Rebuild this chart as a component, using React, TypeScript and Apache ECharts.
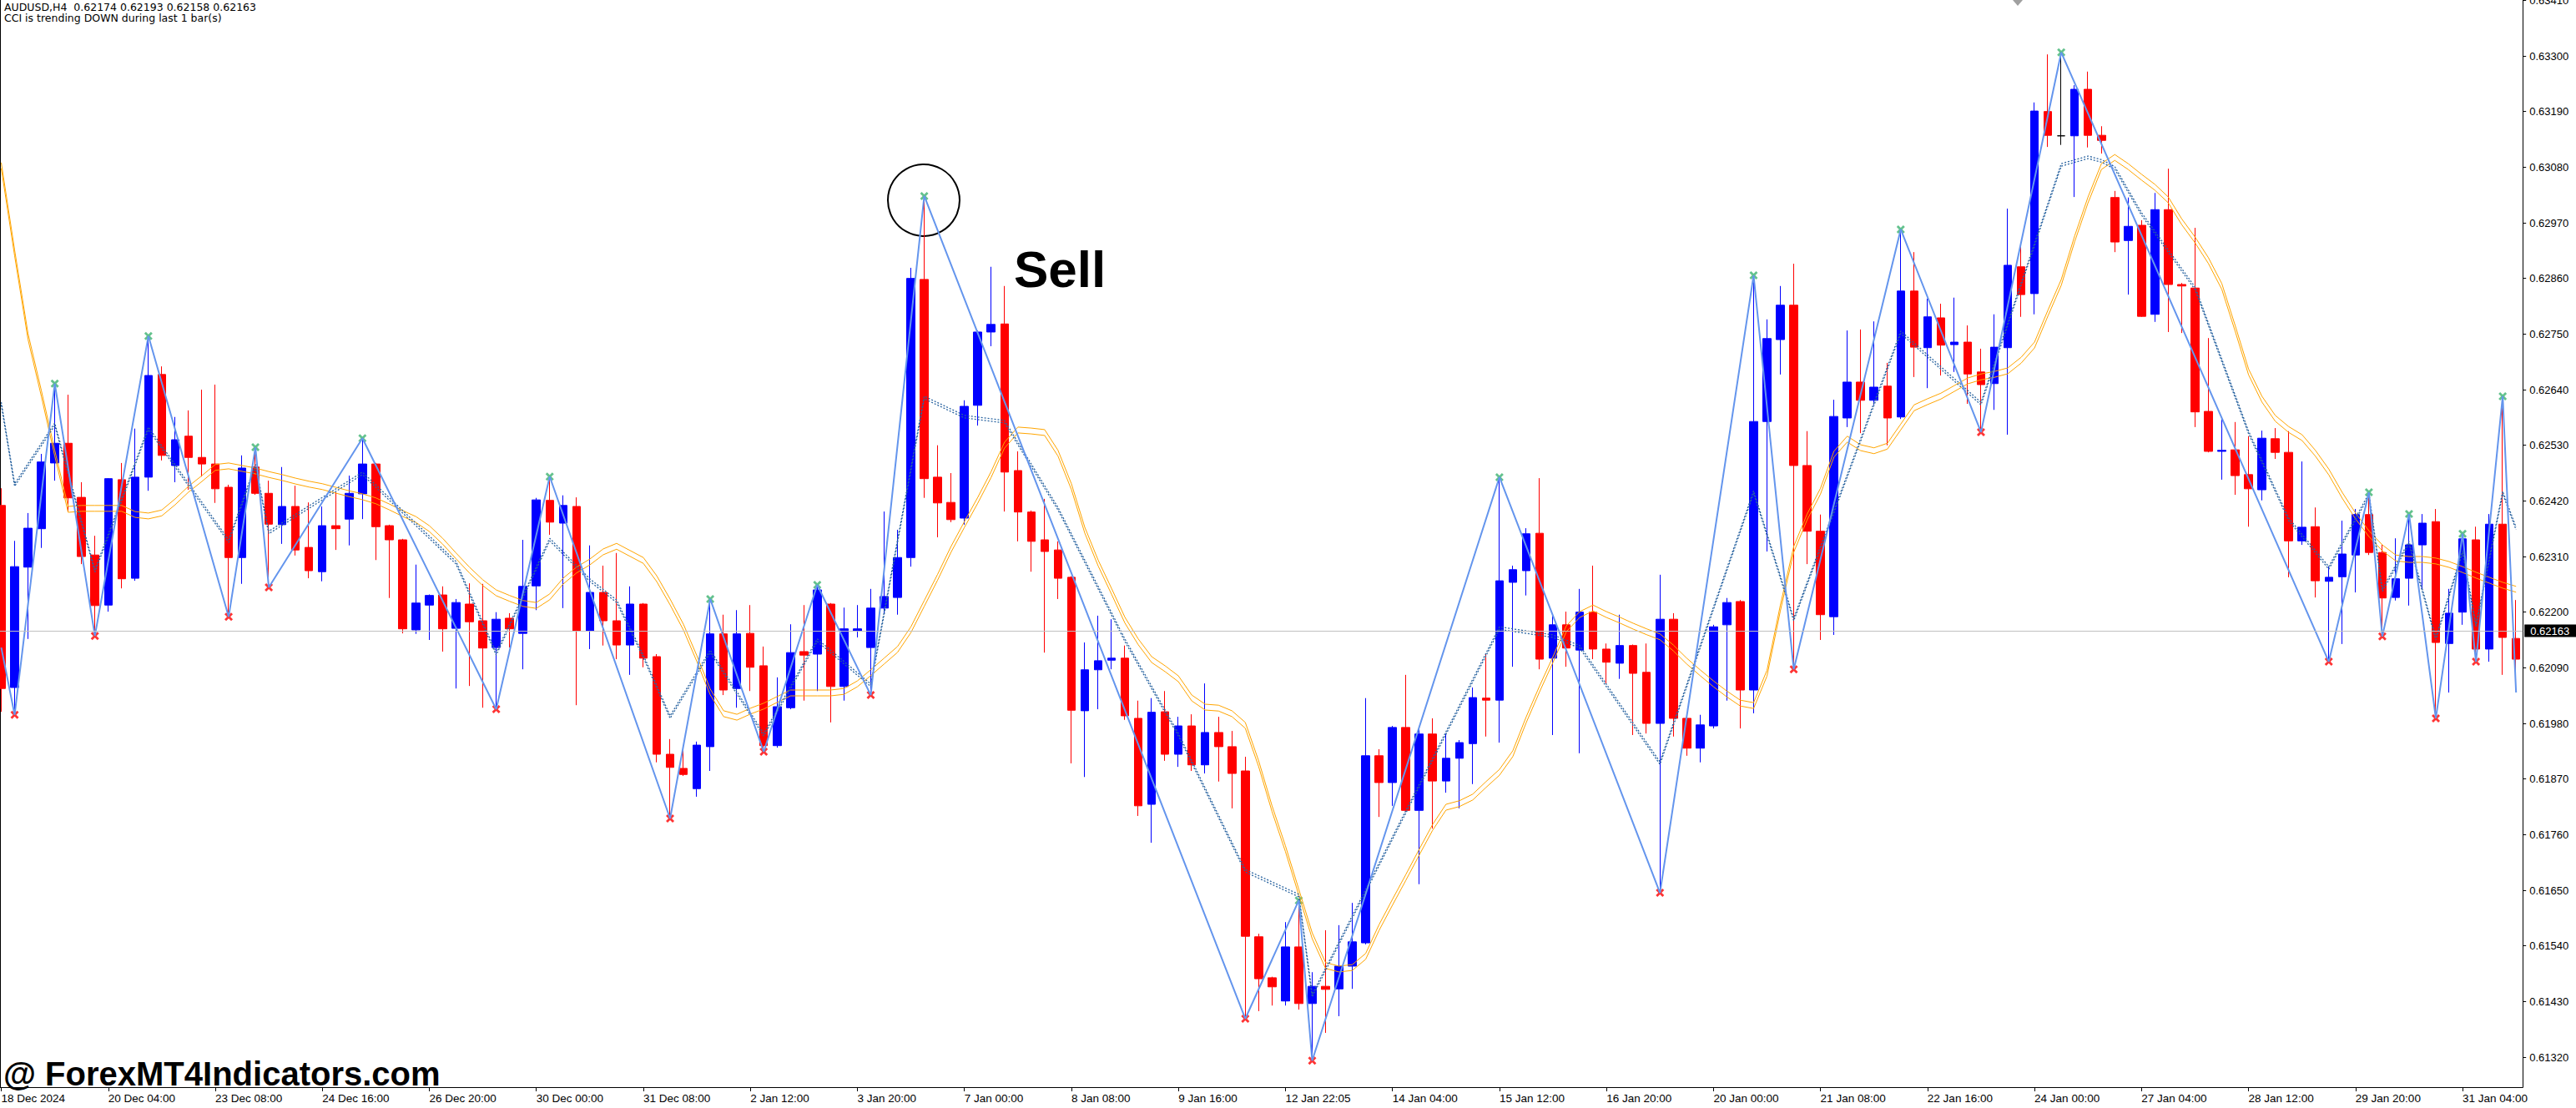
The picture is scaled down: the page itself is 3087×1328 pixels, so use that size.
import React, { useEffect, useRef } from "react";
import * as echarts from "echarts";

const FONT = "Liberation Sans";
const HEAD_FONT = "DejaVu Sans";

const dateLabels = [
  "18 Dec 2024", "20 Dec 04:00", "23 Dec 08:00", "24 Dec 16:00", "26 Dec 20:00", "30 Dec 00:00",
  "31 Dec 08:00", "2 Jan 12:00", "3 Jan 20:00", "7 Jan 00:00", "8 Jan 08:00", "9 Jan 16:00",
  "12 Jan 22:05", "14 Jan 04:00", "15 Jan 12:00", "16 Jan 20:00", "20 Jan 00:00", "21 Jan 08:00",
  "22 Jan 16:00", "24 Jan 00:00", "27 Jan 04:00", "28 Jan 12:00", "29 Jan 20:00", "31 Jan 04:00",
];

const priceTicks = [
  0.6132, 0.6143, 0.6154, 0.6165, 0.6176, 0.6187, 0.6198, 0.6209, 0.622, 0.6231,
  0.6242, 0.6253, 0.6264, 0.6275, 0.6286, 0.6297, 0.6308, 0.6319, 0.633, 0.6341,
];

const priceMin = 0.6126065;
const priceMax = 0.634106;
const lastPrice = 0.62163;

// [open, close, low, high]
const ohlc = [
  [0.62411,0.62049,0.62003,0.62445],[0.62051,0.62290,0.61997,0.62341],[0.62289,0.62366,0.62147,0.62396],
  [0.62365,0.62497,0.62327,0.62513],[0.62495,0.62534,0.62460,0.62652],[0.62534,0.62426,0.62399,0.62630],
  [0.62427,0.62310,0.62295,0.62457],[0.62313,0.62213,0.62153,0.62351],[0.62214,0.62464,0.62201,0.62465],
  [0.62462,0.62266,0.62247,0.62495],[0.62267,0.62467,0.62262,0.62563],[0.62467,0.62668,0.62440,0.62746],
  [0.62670,0.62510,0.62500,0.62686],[0.62490,0.62541,0.62457,0.62586],[0.62548,0.62506,0.62442,0.62599],
  [0.62506,0.62493,0.62468,0.62640],[0.62493,0.62444,0.62416,0.62650],[0.62447,0.62308,0.62191,0.62452],
  [0.62308,0.62485,0.62256,0.62510],[0.62487,0.62435,0.62432,0.62526],[0.62435,0.62374,0.62249,0.62460],
  [0.62373,0.62409,0.62335,0.62487],[0.62409,0.62323,0.62312,0.62450],[0.62328,0.62282,0.62267,0.62417],
  [0.62280,0.62371,0.62261,0.62409],[0.62371,0.62365,0.62323,0.62437],[0.62384,0.62435,0.62332,0.62470],
  [0.62434,0.62493,0.62384,0.62544],[0.62493,0.62369,0.62303,0.62495],[0.62371,0.62343,0.62228,0.62373],
  [0.62343,0.62167,0.62158,0.62345],[0.62165,0.62218,0.62157,0.62294],[0.62214,0.62233,0.62145,0.62235],
  [0.62234,0.62167,0.62122,0.62251],[0.62168,0.62219,0.62049,0.62226],[0.62216,0.62181,0.62054,0.62257],
  [0.62183,0.62129,0.62011,0.62256],[0.62130,0.62186,0.62008,0.62200],[0.62188,0.62167,0.62130,0.62198],
  [0.62158,0.62251,0.62087,0.62343],[0.62252,0.62422,0.62204,0.62426],[0.62421,0.62378,0.62353,0.62468],
  [0.62376,0.62411,0.62208,0.62431],[0.62409,0.62163,0.62016,0.62427],[0.62163,0.62239,0.62127,0.62332],
  [0.62239,0.62183,0.62134,0.62292],[0.62183,0.62135,0.62107,0.62317],[0.62135,0.62216,0.62076,0.62251],
  [0.62216,0.62109,0.62091,0.62218],[0.62112,0.61919,0.61903,0.62117],[0.61919,0.61893,0.61792,0.61949],
  [0.61891,0.61879,0.61876,0.61927],[0.61851,0.61937,0.61835,0.61944],[0.61934,0.62157,0.61886,0.62226],
  [0.62157,0.62046,0.62036,0.62195],[0.62049,0.62157,0.62011,0.62204],[0.62158,0.62091,0.62044,0.62214],
  [0.62094,0.61936,0.61924,0.62132],[0.61936,0.62013,0.61932,0.62071],[0.62011,0.62120,0.62008,0.62176],
  [0.62122,0.62115,0.62025,0.62214],[0.62117,0.62244,0.62044,0.62254],[0.62216,0.62053,0.61982,0.62218],
  [0.62053,0.62167,0.62025,0.62209],[0.62163,0.62167,0.62150,0.62214],[0.62130,0.62208,0.62036,0.62246],
  [0.62208,0.62231,0.62196,0.62399],[0.62229,0.62308,0.62195,0.62363],[0.62308,0.62860,0.62290,0.62881],
  [0.62858,0.62464,0.62426,0.63023],[0.62467,0.62416,0.62348,0.62530],[0.62417,0.62383,0.62378,0.62475],
  [0.62386,0.62607,0.62373,0.62619],[0.62609,0.62754,0.62569,0.62757],[0.62754,0.62769,0.62726,0.62883],
  [0.62770,0.62477,0.62399,0.62845],[0.62480,0.62398,0.62340,0.62518],[0.62398,0.62340,0.62280,0.62401],
  [0.62343,0.62320,0.62120,0.62424],[0.62323,0.62267,0.62226,0.62340],[0.62269,0.62006,0.61901,0.62271],
  [0.62005,0.62086,0.61874,0.62140],[0.62086,0.62104,0.62008,0.62193],[0.62105,0.62109,0.62087,0.62186],
  [0.62109,0.61995,0.61987,0.62134],[0.61990,0.61817,0.61797,0.62025],[0.61820,0.62002,0.61744,0.62030],
  [0.62003,0.61919,0.61906,0.62044],[0.61919,0.61975,0.61894,0.61993],[0.61975,0.61898,0.61886,0.61998],
  [0.61898,0.61962,0.61881,0.62059],[0.61962,0.61934,0.61865,0.61993],[0.61934,0.61881,0.61812,0.61965],
  [0.61886,0.61559,0.61396,0.61914],[0.61558,0.61475,0.61411,0.61564],[0.61477,0.61459,0.61422,0.61479],
  [0.61431,0.61538,0.61422,0.61587],[0.61538,0.61426,0.61414,0.61630],[0.61426,0.61460,0.61313,0.61488],
  [0.61460,0.61454,0.61368,0.61571],[0.61455,0.61500,0.61401,0.61581],[0.61500,0.61548,0.61455,0.61625],
  [0.61546,0.61916,0.61543,0.62030],[0.61916,0.61863,0.61795,0.61929],[0.61863,0.61972,0.61817,0.61975],
  [0.61972,0.61808,0.61805,0.62076],[0.61808,0.61959,0.61662,0.61970],[0.61959,0.61866,0.61772,0.61990],
  [0.61866,0.61911,0.61843,0.61960],[0.61911,0.61942,0.61812,0.61947],[0.61940,0.62031,0.61860,0.62051],
  [0.62030,0.62026,0.61954,0.62117],[0.62026,0.62262,0.61942,0.62467],[0.62259,0.62284,0.62092,0.62292],
  [0.62282,0.62355,0.62233,0.62366],[0.62356,0.62107,0.62087,0.62465],[0.62109,0.62175,0.61957,0.62195],
  [0.62175,0.62129,0.62092,0.62201],[0.62125,0.62200,0.61921,0.62246],[0.62200,0.62127,0.62107,0.62292],
  [0.62127,0.62101,0.62058,0.62138],[0.62099,0.62134,0.62068,0.62195],[0.62134,0.62079,0.61957,0.62136],
  [0.62081,0.61980,0.61960,0.62138],[0.61980,0.62186,0.61645,0.62274],[0.62186,0.61990,0.61954,0.62198],
  [0.61990,0.61931,0.61916,0.61992],[0.61931,0.61977,0.61903,0.61997],[0.61975,0.62171,0.61970,0.62175],
  [0.62175,0.62219,0.62025,0.62228],[0.62221,0.62046,0.61970,0.62224],[0.62046,0.62577,0.62000,0.62866],
  [0.62577,0.62741,0.62320,0.62779],[0.62739,0.62807,0.62670,0.62845],[0.62807,0.62490,0.62087,0.62889],
  [0.62490,0.62360,0.62295,0.62558],[0.62360,0.62195,0.62145,0.62393],[0.62191,0.62587,0.62155,0.62620],
  [0.62584,0.62655,0.62566,0.62757],[0.62655,0.62619,0.62554,0.62759],[0.62619,0.62645,0.62610,0.62775],
  [0.62647,0.62584,0.62530,0.62693],[0.62586,0.62835,0.62582,0.62957],[0.62835,0.62724,0.62665,0.62912],
  [0.62723,0.62784,0.62643,0.62820],[0.62782,0.62728,0.62668,0.62810],[0.62729,0.62734,0.62675,0.62822],
  [0.62734,0.62671,0.62612,0.62767],[0.62675,0.62650,0.62556,0.62721],[0.62652,0.62724,0.62600,0.62789],
  [0.62723,0.62886,0.62551,0.62998],[0.62883,0.62828,0.62784,0.62922],[0.62830,0.63191,0.62789,0.63208],
  [0.63190,0.63143,0.63120,0.63303],[0.63142,0.63142,0.63124,0.63307],[0.63142,0.63234,0.63021,0.63242],
  [0.63234,0.63143,0.63119,0.63269],[0.63143,0.63133,0.63107,0.63161],[0.63020,0.62932,0.62912,0.63033],
  [0.62935,0.62963,0.62828,0.63020],[0.62965,0.62785,0.62784,0.62975],[0.62789,0.62996,0.62774,0.63029],
  [0.62996,0.62848,0.62754,0.63077],[0.62848,0.62845,0.62752,0.62851],[0.62841,0.62596,0.62566,0.62960],
  [0.62597,0.62518,0.62516,0.62742],[0.62518,0.62520,0.62462,0.62582],[0.62521,0.62470,0.62432,0.62576],
  [0.62472,0.62444,0.62369,0.62548],[0.62442,0.62544,0.62421,0.62559],[0.62543,0.62516,0.62503,0.62564],
  [0.62516,0.62341,0.62269,0.62558],[0.62341,0.62368,0.62333,0.62498],[0.62369,0.62262,0.62229,0.62407],
  [0.62261,0.62269,0.62102,0.62290],[0.62270,0.62315,0.62137,0.62381],[0.62313,0.62393,0.62239,0.62404],
  [0.62393,0.62318,0.62313,0.62437],[0.62318,0.62228,0.62152,0.62333],[0.62229,0.62266,0.62223,0.62346],
  [0.62267,0.62333,0.62213,0.62394],[0.62333,0.62376,0.62246,0.62394],[0.62379,0.62140,0.61990,0.62404],
  [0.62138,0.62198,0.62041,0.62246],[0.62200,0.62345,0.62175,0.62355],[0.62343,0.62127,0.62102,0.62369],
  [0.62127,0.62374,0.62102,0.62394],[0.62374,0.62150,0.62076,0.62627],[0.62148,0.62107,0.62066,0.62224],
];

const dojiBars = [154];

const orangeBand = [
  0.63089,0.62916,0.62751,0.62638,0.62520,0.62409,0.62411,0.62411,0.62411,0.62411,
  0.62399,0.62396,0.62402,0.62424,0.62449,0.62470,0.62492,0.62495,0.62490,0.62485,
  0.62478,0.62472,0.62465,0.62459,0.62454,0.62447,0.62440,0.62434,0.62426,0.62414,
  0.62401,0.62389,0.62371,0.62346,0.62317,0.62289,0.62264,0.62244,0.62233,0.62223,
  0.62219,0.62236,0.62267,0.62289,0.62305,0.62325,0.62336,0.62322,0.62308,0.62272,
  0.62226,0.62176,0.62114,0.62048,0.62005,0.61998,0.62010,0.62020,0.62033,0.62046,
  0.62046,0.62046,0.62046,0.62049,0.62064,0.62086,0.62109,0.62132,0.62171,0.62223,
  0.62275,0.62330,0.62379,0.62427,0.62478,0.62536,0.62566,0.62564,0.62561,0.62520,
  0.62454,0.62368,0.62303,0.62247,0.62190,0.62147,0.62112,0.62094,0.62074,0.62036,
  0.62018,0.62016,0.62005,0.61982,0.61906,0.61817,0.61738,0.61652,0.61566,0.61507,
  0.61500,0.61503,0.61525,0.61582,0.61632,0.61681,0.61731,0.61780,0.61820,0.61827,
  0.61840,0.61865,0.61889,0.61926,0.61993,0.62054,0.62112,0.62173,0.62201,0.62214,
  0.62201,0.62190,0.62178,0.62167,0.62157,0.62135,0.62109,0.62086,0.62064,0.62044,
  0.62026,0.62021,0.62085,0.62214,0.62330,0.62394,0.62445,0.62518,0.62548,0.62531,
  0.62525,0.62534,0.62572,0.62610,0.62622,0.62633,0.62648,0.62663,0.62671,0.62676,
  0.62683,0.62704,0.62734,0.62797,0.62858,0.62944,0.63021,0.63087,0.63105,0.63087,
  0.63066,0.63046,0.63021,0.62978,0.62942,0.62901,0.62850,0.62767,0.62681,0.62627,
  0.62589,0.62567,0.62551,0.62520,0.62483,0.62437,0.62396,0.62361,0.62333,0.62313,
  0.62310,0.62310,0.62307,0.62300,0.62290,0.62279,0.62269,0.62259,0.62251,
];

// [bar, price, kind] kind: H = swing high, L = swing low
const zigzag = [
  [0,0.62130,""],[1,0.61997,"L"],[4,0.62652,"H"],[7,0.62153,"L"],[11,0.62746,"H"],
  [17,0.62191,"L"],[19,0.62526,"H"],[20,0.62249,"L"],[27,0.62544,"H"],[37,0.62008,"L"],
  [41,0.62468,"H"],[50,0.61792,"L"],[53,0.62226,"H"],[57,0.61924,"L"],[61,0.62254,"H"],
  [65,0.62036,"L"],[69,0.63023,"H"],[93,0.61396,"L"],[97,0.61630,"H"],[98,0.61313,"L"],
  [112,0.62467,"H"],[124,0.61645,"L"],[131,0.62866,"H"],[134,0.62087,"L"],[142,0.62957,"H"],
  [148,0.62556,"L"],[154,0.63307,"H"],[174,0.62102,"L"],[177,0.62437,"H"],[178,0.62152,"L"],
  [180,0.62394,"H"],[182,0.61990,"L"],[184,0.62355,"H"],[185,0.62102,"L"],[187,0.62627,"H"],
  [188,0.62041,""],
];

const dottedTrend = [
  [0,0.62615],[1,0.62454],[4,0.62574],[7,0.62284],[11,0.62566],[17,0.62343],[19,0.62492],
  [20,0.62360],[27,0.62477],[34,0.62300],[37,0.62120],[41,0.62346],[44,0.62266],[46,0.62224],
  [48,0.62115],[50,0.61995],[53,0.62125],[57,0.61960],[61,0.62147],[65,0.62058],[69,0.62627],
  [72,0.62589],[75,0.62579],[79,0.62407],[84,0.62147],[88,0.61960],[93,0.61691],[97,0.61642],
  [98,0.61444],[112,0.62171],[116,0.62155],[118,0.62134],[124,0.61904],[131,0.62440],
  [134,0.62188],[142,0.62756],[148,0.62615],[154,0.63087],[156,0.63102],[157,0.63095],
  [158,0.63081],[160,0.62990],[164,0.62843],[168,0.62558],[171,0.62386],[174,0.62290],
  [177,0.62435],[178,0.62246],[180,0.62340],[182,0.62150],[184,0.62322],[185,0.62176],
  [187,0.62439],[188,0.62368],
];

const X_SYMBOL =
  "path://M2,0 L5,3 L8,0 L10,2 L7,5 L10,8 L8,10 L5,7 L2,10 L0,8 L3,5 L0,2 Z";

export default function App() {
  const ref = useRef<HTMLDivElement>(null);

  useEffect(() => {
    if (!ref.current) return;
    const chart = echarts.init(ref.current, undefined, { renderer: "svg" });

    const categories = ohlc.map((_, i) => (i % 8 === 0 ? dateLabels[i / 8] || "" : ""));
    const candleData = ohlc.map((v, i) =>
      dojiBars.includes(i)
        ? { value: v, itemStyle: { color: "#000", color0: "#000", borderColor: "#000", borderColor0: "#000" } }
        : v
    );
    const pxPrice = (priceMax - priceMin) / 1303;
    const orangeShift = pxPrice * 7;
    const dotShift = pxPrice * 3;

    const hiddenAxis = (shift: number) => ({
      type: "value",
      show: false,
      position: "right",
      min: priceMin + shift,
      max: priceMax + shift,
      splitLine: { show: false },
    });

    const dotStyle = { color: "#2A64A0", width: 1.3, type: [2, 2] };

    chart.setOption({
      animation: false,
      backgroundColor: "#fff",
      grid: { left: -6.5, top: 0, width: 3029.7, height: 1303, outerBoundsMode: "none", containLabel: false },
      xAxis: {
        type: "category",
        data: categories,
        boundaryGap: true,
        axisLine: { show: true, lineStyle: { color: "#000", width: 1 } },
        axisTick: { show: true, interval: 7, alignWithLabel: true, length: 5, lineStyle: { color: "#000" } },
        axisLabel: {
          interval: 7,
          align: "left",
          margin: 6,
          color: "#000",
          fontFamily: FONT,
          fontSize: 13.5,
          hideOverlap: false,
        },
        splitLine: { show: false },
      },
      yAxis: [
        {
          type: "value",
          position: "right",
          min: priceMin,
          max: priceMax,
          splitLine: { show: false },
          axisLine: { show: true, lineStyle: { color: "#000", width: 1 } },
          axisTick: { show: true, length: 4, lineStyle: { color: "#000" }, customValues: priceTicks },
          axisLabel: {
            color: "#000",
            fontFamily: FONT,
            fontSize: 13,
            margin: 8,
            customValues: priceTicks,
            formatter: (v: number) => v.toFixed(5),
          },
        },
        hiddenAxis(orangeShift),
        hiddenAxis(dotShift),
      ],
      series: [
        {
          type: "line",
          data: [],
          yAxisIndex: 0,
          symbol: "none",
          markLine: {
            silent: true,
            precision: 5,
            symbol: ["none", "none"],
            animation: false,
            lineStyle: { color: "#C0C0C0", width: 1, type: "solid" },
            label: {
              show: true,
              position: "end",
              distance: 2,
              formatter: lastPrice.toFixed(5),
              backgroundColor: "#000",
              color: "#fff",
              fontFamily: FONT,
              fontSize: 13,
              padding: [1, 12, 1, 7],
            },
            data: [{ yAxis: lastPrice }],
          },
        },
        {
          type: "candlestick",
          data: candleData,
          barWidth: 10,
          clip: true,
          itemStyle: {
            color: "#0000FF",
            color0: "#FF0000",
            borderColor: "#0000FF",
            borderColor0: "#FF0000",
            borderWidth: 1,
          },
        },
        {
          type: "line",
          data: orangeBand,
          yAxisIndex: 0,
          symbol: "none",
          lineStyle: { color: "#FFA500", width: 1 },
        },
        {
          type: "line",
          data: orangeBand,
          yAxisIndex: 1,
          symbol: "none",
          lineStyle: { color: "#FFA500", width: 1 },
        },
        {
          type: "line",
          data: dottedTrend,
          yAxisIndex: 0,
          symbol: "none",
          lineStyle: dotStyle,
        },
        {
          type: "line",
          data: dottedTrend,
          yAxisIndex: 2,
          symbol: "none",
          lineStyle: dotStyle,
        },
        {
          type: "line",
          data: zigzag.map((z) => [z[0], z[1]]),
          symbol: "none",
          lineStyle: { color: "#6495ED", width: 2 },
        },
        {
          type: "scatter",
          data: zigzag.filter((z) => z[2] === "H").map((z) => [z[0], z[1]]),
          symbol: X_SYMBOL,
          symbolSize: 10,
          itemStyle: { color: "#3CB371" },
        },
        {
          type: "scatter",
          data: zigzag.filter((z) => z[2] === "L").map((z) => [z[0], z[1]]),
          symbol: X_SYMBOL,
          symbolSize: 10,
          itemStyle: { color: "#FF0000" },
        },
      ],
      graphic: [
        { type: "rect", shape: { x: 0, y: 0, width: 1, height: 1303 }, style: { fill: "#000" } },
        {
          type: "text",
          x: 5,
          y: 2,
          style: { text: "AUDUSD,H4\u00a0 0.62174 0.62193 0.62158 0.62163", fontFamily: HEAD_FONT, fontSize: 12.5, fill: "#000", verticalAlign: "top" },
        },
        {
          type: "text",
          x: 5,
          y: 15,
          style: { text: "CCI is trending DOWN during last 1 bar(s)", fontFamily: HEAD_FONT, fontSize: 12.5, fill: "#000", verticalAlign: "top" },
        },
        {
          type: "circle",
          shape: { cx: 1107, cy: 240, r: 43 },
          style: { fill: "none", stroke: "#000", lineWidth: 2 },
        },
        {
          type: "text",
          x: 1215,
          y: 322,
          style: { text: "Sell", fontFamily: FONT, fontWeight: "bold", fontSize: 62, fill: "#000", verticalAlign: "middle" },
        },
        {
          type: "text",
          x: 4,
          y: 1287,
          style: { text: "@ ForexMT4Indicators.com", fontFamily: FONT, fontWeight: "bold", fontSize: 40, fill: "#000", verticalAlign: "middle" },
        },
        {
          type: "polygon",
          shape: { points: [[2412, 0], [2424, 0], [2418, 7]] },
          style: { fill: "#A0A0A0" },
        },
      ],
    });

    return () => chart.dispose();
  }, []);

  return (
    <div
      ref={ref}
      style={{ position: "absolute", left: 0, top: 0, width: 3087, height: 1328, background: "#fff" }}
    />
  );
}
